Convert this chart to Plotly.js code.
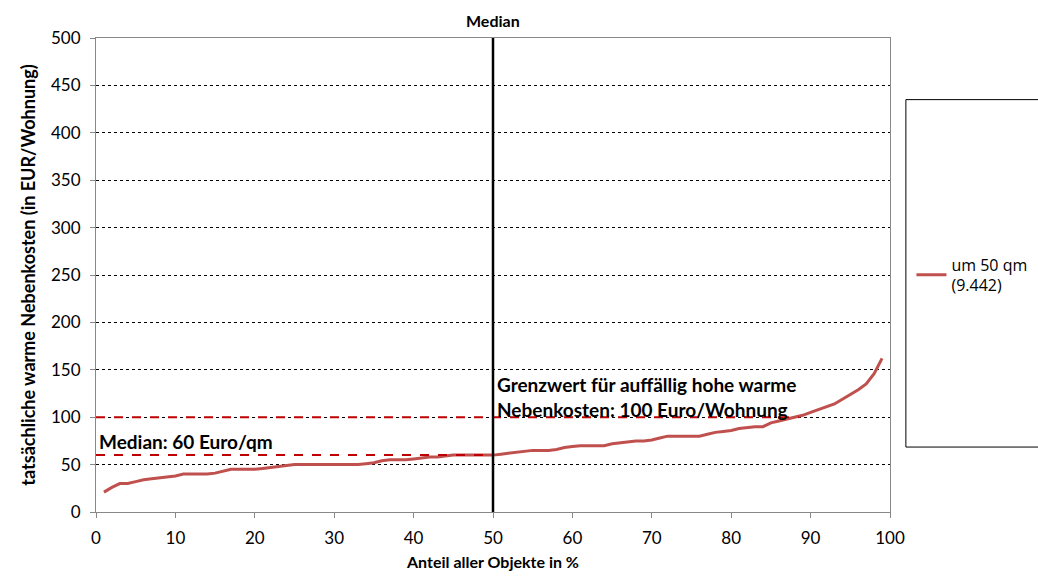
<!DOCTYPE html>
<html><head><meta charset="utf-8">
<script src="https://cdn.plot.ly/plotly-3.0.1.min.js"></script>
<style>html,body{margin:0;padding:0;background:#fff}</style>
</head><body>
<div id="chart" style="width:1038px;height:580px"></div>
<script>
// Percent of all objects (1..99)
const share = [];
for (let i = 1; i <= 99; i++) share.push(i);
// Warm running costs in EUR per flat
const costs = [
  21,26,30,30,32,34,35,36,37,38,
  40,40,40,40,41,43,45,45,45,45,
  46,47,48,49,50,50,50,50,50,50,
  50,50,50,51,52,54,55,55,55,56,
  57,58,58,59,60,60,60,60,60,60,
  61,62,63,64,65,65,65,66,68,69,
  70,70,70,70,72,73,74,75,75,76,
  78,80,80,80,80,80,82,84,85,86,
  88,89,90,90,94,96,98,100,102,105,
  108,111,114,119,124,129,135,146,162
];
const seriesName = "um 50 qm<br>(9.442)";
const medianX = 50;
const medianCost = 60;
const medianCostEnd = 50;
const limitCost = 100;
const limitCostEnd = 88.5;
const yTicks = [0,50,100,150,200,250,300,350,400,450,500];
const xTicks = [0,10,20,30,40,50,60,70,80,90,100];

const FONT = "Lato, 'Open Sans', sans-serif";

const traces = [{
  x: share, y: costs, type: "scatter", mode: "lines", name: seriesName,
  line: {color: "#C0504D", width: 3}
}];

const layout = {
  width: 1038, height: 580,
  margin: {l: 96, r: 148, t: 38, b: 68, autoexpand: false},
  paper_bgcolor: "#fff", plot_bgcolor: "#fff",
  font: {family: FONT, size: 16, color: "#000"},
  showlegend: true,
  legend: {x: 1.027, y: 0.5, xanchor: "left", yanchor: "middle",
    font: {family: "'Open Sans', sans-serif", size: 16, color: "#000"},
    bgcolor: "rgba(0,0,0,0)", borderwidth: 0, itemwidth: 30},
  xaxis: {range: [0, 100], tickvals: xTicks, ticktext: xTicks.map(String),
    showgrid: false, zeroline: false, showline: true, linecolor: "#888", linewidth: 1,
    mirror: true, ticks: "outside", ticklen: 5, tickcolor: "#888",
    tickfont: {family: FONT, size: 17}, ticklabelstandoff: 6,
    title: {text: "<b>Anteil aller Objekte in %</b>", font: {family: FONT, size: 16}, standoff: 9}},
  yaxis: {range: [0, 500], tickvals: yTicks, ticktext: yTicks.map(String),
    showgrid: true, gridcolor: "#000", griddash: "dot", gridwidth: 1,
    zeroline: false, showline: true, linecolor: "#888", linewidth: 1, mirror: true,
    ticks: "outside", ticklen: 5, tickcolor: "#888",
    tickfont: {family: FONT, size: 17}, ticklabelstandoff: 6,
    title: {text: "<b>tatsächliche warme Nebenkosten (in EUR/Wohnung)</b>", font: {family: FONT, size: 18}, standoff: 10}},
  shapes: [
    {type: "line", xref: "x", yref: "y", x0: 0, x1: medianCostEnd, y0: medianCost, y1: medianCost,
      line: {color: "#C00000", width: 2, dash: "dash"}},
    {type: "line", xref: "x", yref: "y", x0: 0, x1: limitCostEnd, y0: limitCost, y1: limitCost,
      line: {color: "#C00000", width: 2, dash: "dash"}},
    {type: "line", xref: "x", yref: "y", x0: medianX, x1: medianX, y0: 0, y1: 500,
      line: {color: "#000", width: 2.5}},
    {type: "rect", xref: "paper", yref: "paper", x0: 1.02, x1: 1.2, y0: 0.137, y1: 0.87,
      line: {color: "#000", width: 1}, fillcolor: "rgba(0,0,0,0)"}
  ],
  annotations: [
    {xref: "x", yref: "paper", x: medianX, y: 1, yanchor: "bottom", xanchor: "center", yshift: 6,
      text: "<b>Median</b>", showarrow: false, font: {family: FONT, size: 16}},
    {xref: "x", yref: "y", x: 0, y: medianCost, xanchor: "left", yanchor: "bottom", xshift: 1, yshift: 0,
      text: "<b>Median: 60 Euro/qm</b>", showarrow: false, font: {family: FONT, size: 19}},
    {xref: "x", yref: "y", x: medianX, y: limitCost, xanchor: "left", yanchor: "bottom", xshift: 2, yshift: -6,
      align: "left", text: "<b>Grenzwert für auffällig hohe warme<br>Nebenkosten: 100 Euro/Wohnung</b>",
      showarrow: false, font: {family: FONT, size: 19}}
  ]
};

Plotly.newPlot("chart", traces, layout, {displayModeBar: false, staticPlot: true});
</script>
</body></html>
